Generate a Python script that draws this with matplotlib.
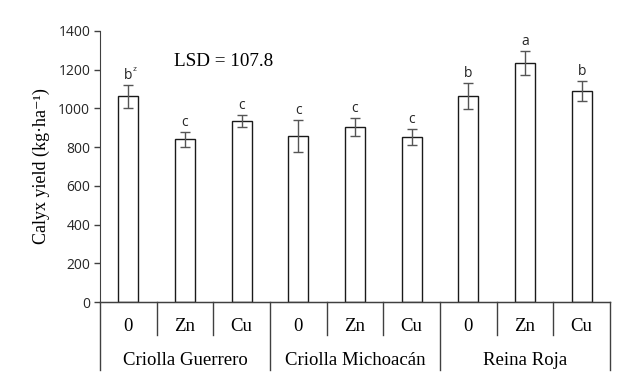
import matplotlib
matplotlib.use('Agg')
import matplotlib.pyplot as plt
import matplotlib.transforms as mtransforms

cultivars = ['Criolla Guerrero', 'Criolla Michoacán', 'Reina Roja']
treatments = ['0', 'Zn', 'Cu']
yields = [1062, 840, 935, 858, 902, 851, 1063, 1235, 1088]
errors = [58, 38, 33, 84, 47, 42, 66, 62, 52]
letters = ['b', 'c', 'c', 'c', 'c', 'c', 'b', 'a', 'b']

SERIF = ['Liberation Serif', 'DejaVu Serif']
SANS = ['Open Sans', 'DejaVu Sans']

fig = plt.figure(figsize=(6.27, 3.9), dpi=100)
ax = fig.add_axes([100 / 627, 1 - 302 / 390, 510 / 627, 271 / 390])

x = list(range(len(yields)))
ax.bar(x, yields, width=0.35, color='white', edgecolor='#1a1a1a', linewidth=1.0, zorder=2)
ax.errorbar(x, yields, yerr=errors, fmt='none', ecolor='#555555', elinewidth=1.0,
            capsize=3.5, capthick=1.0, zorder=3)

# significance letters above the error bars
for i, (v, e, l) in enumerate(zip(yields, errors, letters)):
    ax.annotate(l, (i, v + e), xytext=(0, 1.5), textcoords='offset points',
                ha='center', va='bottom', fontsize=10, family=SANS, color='#262626')
ax.annotate('z', (0, yields[0] + errors[0]), xytext=(4.8, 8.5), textcoords='offset points',
            ha='center', va='bottom', fontsize=6, family=SANS, color='#262626')

ax.text(1.69, 1245, 'LSD = 107.8', ha='center', va='center', fontsize=13.8, family=SERIF)

ax.set_xlim(-0.5, len(yields) - 0.5)
ax.set_ylim(0, 1400)
ax.set_yticks(range(0, 1401, 200))
for lab in ax.get_yticklabels():
    lab.set_family(SANS)
ax.tick_params(axis='y', direction='out', length=4, width=1, labelsize=10,
               labelcolor='#262626', color='#404040', pad=3)
ax.set_xticks([])

for s in ['top', 'right']:
    ax.spines[s].set_visible(False)
ax.spines['left'].set_color('#404040')
ax.spines['bottom'].set_color('#404040')

ax.set_ylabel('Calyx yield (kg·ha⁻¹)', family=SERIF, fontsize=13, labelpad=6)

# two-level category axis below the plot
trans = mtransforms.blended_transform_factory(ax.transData, ax.transAxes)
n = len(yields)
ax.plot([-0.5, n - 0.5], [0, 0], color='#404040', lw=1, transform=trans, clip_on=False)
for k in range(n + 1):
    xb = k - 0.5
    bottom = -0.251 if k % 3 == 0 else -0.122
    ax.plot([xb, xb], [0, bottom], color='#404040', lw=1, transform=trans, clip_on=False)
for i in range(n):
    ax.text(i, -0.09, treatments[i % 3], transform=trans, ha='center', va='center',
            fontsize=13.5, family=SERIF)
for g, name in enumerate(cultivars):
    ax.text(g * 3 + 1, -0.215, name, transform=trans, ha='center', va='center',
            fontsize=13.5, family=SERIF)

plt.savefig('out.png', dpi=100)
